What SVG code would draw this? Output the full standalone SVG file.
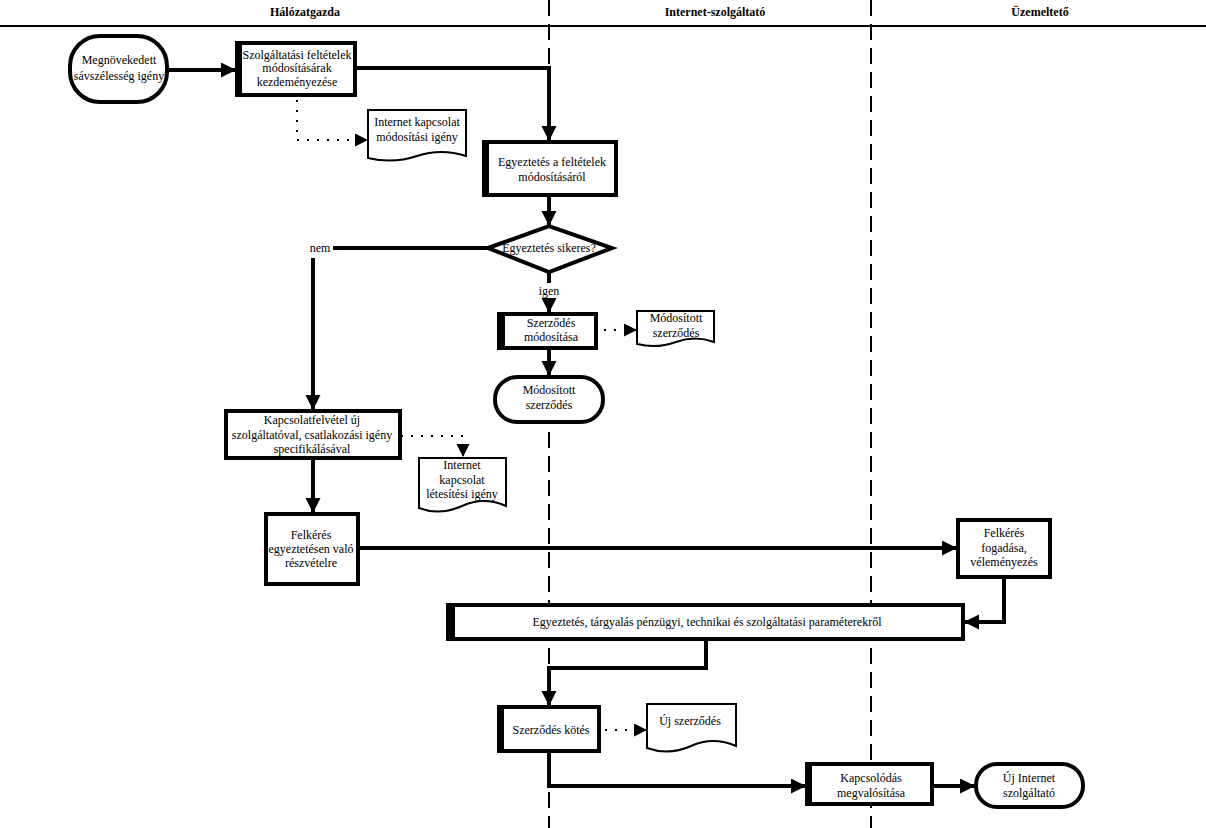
<svg xmlns="http://www.w3.org/2000/svg" width="1206" height="828" viewBox="0 0 1206 828" font-family="'Liberation Serif', 'DejaVu Serif', 'Times New Roman', serif">
<style>
text{font-family:'Liberation Serif','DejaVu Serif','Times New Roman',serif;font-size:12px;fill:#000;text-anchor:middle;font-weight:normal}
.hdr{font-weight:bold}
.lane{stroke:#000;stroke-width:2;stroke-dasharray:16 8;fill:none}
.c{stroke:#000;stroke-width:4;fill:none}
.d{stroke:#000;stroke-width:2;stroke-dasharray:2 8;fill:none}
.box{fill:#fff;stroke:#000;stroke-width:4}
.doc{fill:#fff;stroke:#000;stroke-width:2}
.thick{fill:#000}
</style>
<defs>
<marker id="ah" markerUnits="userSpaceOnUse" markerWidth="16" markerHeight="16" refX="15" refY="7.5" orient="auto">
<path d="M0,0 L15,7.5 L0,15 z" fill="#000"/>
</marker>
<marker id="ahs" markerUnits="userSpaceOnUse" markerWidth="14" markerHeight="14" refX="13" refY="6.5" orient="auto">
<path d="M0,0 L13,6.5 L0,13 z" fill="#000"/>
</marker>
</defs>
<rect width="1206" height="828" fill="#fff"/>
<g id="lanes">
<line x1="0" y1="26" x2="1206" y2="26" stroke="#000" stroke-width="2"/>
<line class="lane" x1="549" y1="0" x2="549" y2="828"/>
<line class="lane" x1="871" y1="0" x2="871" y2="828"/>
<text class="hdr" x="305" y="16">Hálózatgazda</text>
<text class="hdr" x="715" y="16">Internet-szolgáltató</text>
<text class="hdr" x="1040" y="16">Üzemeltető</text>
</g>
<g id="connectors">
<path class="c" d="M167,70 H236" marker-end="url(#ah)"/>
<path class="c" d="M356,68 H549 V141" marker-end="url(#ah)"/>
<path class="d" d="M297,100 V140 H368" marker-end="url(#ahs)"/>
<path class="c" d="M549,196 V226" marker-end="url(#ah)"/>
<path class="c" d="M488,248 H333"/>
<text x="320" y="252">nem</text>
<path class="c" d="M313,258 V410" marker-end="url(#ah)"/>
<path class="c" d="M549,272 V283"/>
<rect x="536" y="284" width="26" height="14" fill="#fff"/>
<text x="549" y="295">igen</text>
<path class="c" d="M549,298 V313" marker-end="url(#ah)"/>
<path class="d" d="M604,330 H637" marker-end="url(#ahs)"/>
<path class="c" d="M549,349 V376" marker-end="url(#ah)"/>
<path class="d" d="M401,436 H463 V457" marker-end="url(#ahs)"/>
<path class="c" d="M313,459 V513" marker-end="url(#ah)"/>
<path class="c" d="M358,548 H957" marker-end="url(#ah)"/>
<path class="c" d="M1004,578 V622 H964" marker-end="url(#ah)"/>
<path class="c" d="M706,640 V668 H549 V706" marker-end="url(#ah)"/>
<path class="d" d="M605,730 H647" marker-end="url(#ahs)"/>
<path class="c" d="M549,752 V786 H806" marker-end="url(#ah)"/>
<path class="c" d="M933,786 H975" marker-end="url(#ah)"/>
</g>
<g id="n1">
<rect class="box" x="70" y="36" width="97" height="66" rx="30"/>
<text x="119" y="64">Megnövekedett</text>
<text x="119" y="80">sávszélesség igény</text>
</g>
<g id="n2">
<rect class="box" x="237" y="43" width="118" height="52"/>
<rect class="thick" x="235" y="41" width="7" height="56"/>
<text x="297" y="59">Szolgáltatási feltételek</text>
<text x="297" y="72">módosításárak</text>
<text x="297" y="86">kezdeményezése</text>
</g>
<g id="n3">
<path class="doc" d="M368,110 H466 V156 Q441,148 417,156 T368,158 Z"/>
<text x="417" y="126">Internet kapcsolat</text>
<text x="417" y="141">módosítási igény</text>
</g>
<g id="n4">
<rect class="box" x="484" y="142" width="132" height="53"/>
<rect class="thick" x="482" y="140" width="7" height="57"/>
<text x="552" y="166">Egyeztetés a feltételek</text>
<text x="552" y="181">módosításáról</text>
</g>
<g id="n5">
<polygon class="box" points="488,248 549,226 612,248 549,272"/>
<text x="549" y="252">Egyeztetés sikeres?</text>
</g>
<g id="n6">
<rect class="box" x="499" y="314" width="97" height="34"/>
<rect class="thick" x="497" y="312" width="8" height="38"/>
<text x="551" y="327">Szerződés</text>
<text x="551" y="341">módosítása</text>
</g>
<g id="n7">
<path class="doc" d="M637,311 H714 V342 Q695,335 676,342 T637,344 Z"/>
<text x="676" y="322">Módosított</text>
<text x="676" y="337">szerződés</text>
</g>
<g id="n8">
<rect class="box" x="495" y="377" width="108" height="45" rx="22"/>
<text x="549" y="394">Módosított</text>
<text x="549" y="409">szerződés</text>
</g>
<g id="n9">
<rect class="box" x="226" y="411" width="174" height="47"/>
<text x="312" y="424">Kapcsolatfelvétel új</text>
<text x="312" y="439">szolgáltatóval, csatlakozási igény</text>
<text x="312" y="453">specifikálásával</text>
</g>
<g id="n10">
<path class="doc" d="M419,458 H506 V506 Q484,496 462,506 T419,508 Z"/>
<text x="462" y="469">Internet</text>
<text x="462" y="484">kapcsolat</text>
<text x="462" y="498">létesítési igény</text>
</g>
<g id="n11">
<rect class="box" x="266" y="514" width="92" height="70"/>
<text x="311" y="539">Felkérés</text>
<text x="311" y="553">egyeztetésen való</text>
<text x="311" y="567">részvételre</text>
</g>
<g id="n12">
<rect class="box" x="958" y="520" width="92" height="57"/>
<text x="1004" y="537">Felkérés</text>
<text x="1004" y="552">fogadása,</text>
<text x="1004" y="566">véleményezés</text>
</g>
<g id="n13">
<rect class="box" x="448" y="605" width="515" height="34"/>
<rect class="thick" x="446" y="603" width="9" height="38"/>
<text x="707" y="626">Egyeztetés, tárgyalás pénzügyi, technikai és szolgáltatási paraméterekről</text>
</g>
<g id="n14">
<rect class="box" x="499" y="707" width="100" height="44"/>
<rect class="thick" x="497" y="705" width="7" height="48"/>
<text x="551" y="734">Szerződés kötés</text>
</g>
<g id="n15">
<path class="doc" d="M647,704 H736 V746 Q713,736 691,746 T647,748 Z"/>
<text x="690" y="725">Új szerződés</text>
</g>
<g id="n16">
<rect class="box" x="807" y="764" width="125" height="40"/>
<rect class="thick" x="805" y="762" width="7" height="44"/>
<text x="871" y="782">Kapcsolódás</text>
<text x="871" y="797">megvalósítása</text>
</g>
<g id="n17">
<rect class="box" x="976" y="764" width="107" height="43" rx="21"/>
<text x="1029" y="782">Új Internet</text>
<text x="1029" y="797">szolgáltató</text>
</g>
</svg>
